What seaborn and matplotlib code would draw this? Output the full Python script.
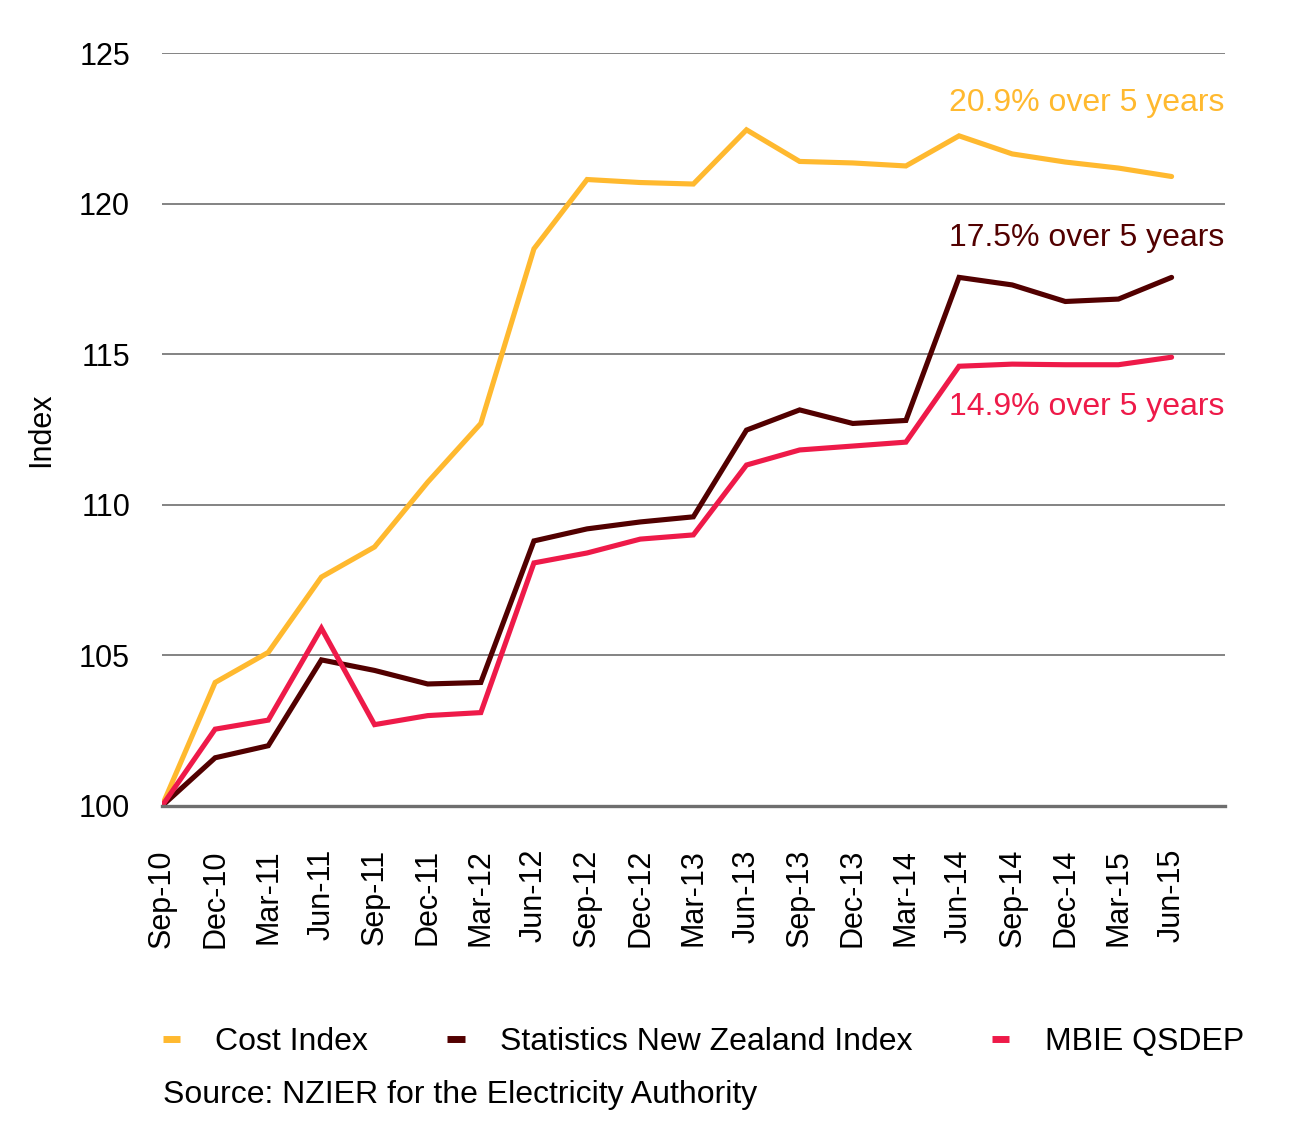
import matplotlib
matplotlib.use("Agg")
import matplotlib.pyplot as plt
import seaborn as sns
import pandas as pd

quarters = ["Sep-10", "Dec-10", "Mar-11", "Jun-11", "Sep-11", "Dec-11", "Mar-12",
            "Jun-12", "Sep-12", "Dec-12", "Mar-13", "Jun-13", "Sep-13", "Dec-13",
            "Mar-14", "Jun-14", "Sep-14", "Dec-14", "Mar-15", "Jun-15"]

cost_index = [100.0, 104.1, 105.1, 107.6, 108.6, 110.75, 112.7, 118.5, 120.8, 120.7,
              120.65, 122.45, 121.4, 121.35, 121.25, 122.25, 121.65, 121.38, 121.18, 120.9]
stats_nz = [100.0, 101.6, 102.0, 104.85, 104.5, 104.05, 104.1, 108.8, 109.2, 109.43,
            109.6, 112.48, 113.15, 112.7, 112.8, 117.55, 117.3, 116.75, 116.83, 117.55]
mbie = [100.0, 102.55, 102.85, 105.9, 102.7, 103.0, 103.1, 108.07, 108.4, 108.86,
        109.0, 111.32, 111.82, 111.95, 112.08, 114.6, 114.67, 114.65, 114.65, 114.9]

series_names = ["Cost Index", "Statistics New Zealand Index", "MBIE QSDEP"]
annotations = ["20.9% over 5 years", "17.5% over 5 years", "14.9% over 5 years"]
annotation_y = [123.35, 118.85, 113.25]
colors = ["#FFB92F", "#520000", "#EE1A49"]
yticks = [100, 105, 110, 115, 120, 125]

rows = []
for name, vals in zip(series_names, [cost_index, stats_nz, mbie]):
    for i, v in enumerate(vals):
        rows.append({"pos": i, "quarter": quarters[i], "value": v, "series": name})
df = pd.DataFrame(rows)

sns.set_style("white")
plt.rcParams["font.family"] = ["Liberation Sans", "DejaVu Sans"]
plt.rcParams["text.color"] = "black"
plt.rcParams["xtick.color"] = "black"
plt.rcParams["ytick.color"] = "black"
plt.rcParams["axes.labelcolor"] = "black"

fig = plt.figure(figsize=(12.96, 11.28), dpi=100)
ax = fig.add_axes([0.125, 0.2855, 0.82, 0.6675])

palette = dict(zip(series_names, colors))
sns.lineplot(data=df, x="pos", y="value", hue="series", palette=palette,
             linewidth=3.7, ax=ax, legend=False, solid_joinstyle="miter")

ax.set_xlim(0, 20)
ax.set_ylim(100, 125)
ax.set_yticks(yticks)
ax.set_yticklabels([str(t) for t in yticks], fontsize=22)
ax.set_xticks(range(len(quarters)))
ax.set_xticklabels(quarters, rotation=90, fontsize=22)
ax.tick_params(axis="x", direction="out", length=6, width=2.6, color="black", pad=25)
ax.tick_params(axis="y", length=0, pad=23)

for t in yticks[1:]:
    ax.axhline(t, color="#6e6e6e", linewidth=1.2, zorder=0)

for s in ["top", "right", "left"]:
    ax.spines[s].set_visible(False)
ax.spines["bottom"].set_color("#6e6e6e")
ax.spines["bottom"].set_linewidth(2.4)

ax.set_xlabel("")
ax.set_ylabel("Index", fontsize=22)
ax.yaxis.set_label_coords(-0.1, 0.5)

for txt, y, c in zip(annotations, annotation_y, colors):
    ax.text(20, y, txt, color=c, fontsize=23, ha="right", va="center")

from matplotlib.lines import Line2D
handles = [Line2D([0], [0], color=c, linewidth=5, solid_capstyle="butt") for c in colors]
fig.legend(handles, series_names, loc="center left", ncol=3,
           bbox_to_anchor=(0.1255, 1 - 1042 / 1128), frameon=False, fontsize=23,
           handlelength=0.55, handletextpad=1.1, columnspacing=2.48,
           borderpad=0, borderaxespad=0)

fig.text(0.1255, 1 - 1095 / 1128, "Source: NZIER for the Electricity Authority",
         fontsize=23, ha="left", va="center")

fig.savefig("out.png", dpi=100, facecolor="white")
